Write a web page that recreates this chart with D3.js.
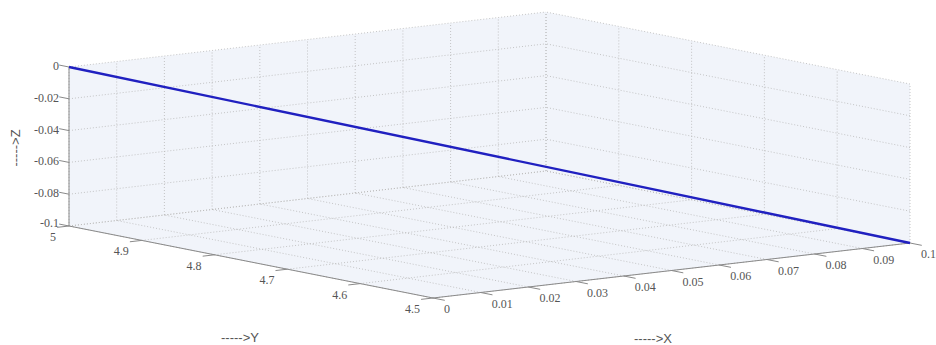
<!DOCTYPE html>
<html><head><meta charset="utf-8">
<script src="https://cdn.jsdelivr.net/npm/d3@7"></script>
<style>html,body{margin:0;padding:0;background:#fff;}</style>
</head><body>
<svg id="chart" width="936" height="345"></svg>
<script>
// ---- data ----
const lineX = [0, 0.1];
const lineY = [5, 4.5];
const lineZ = [0, -0.1];
const xTicks = [0, 0.01, 0.02, 0.03, 0.04, 0.05, 0.06, 0.07, 0.08, 0.09, 0.1];
const yTicks = [4.5, 4.6, 4.7, 4.8, 4.9, 5];
const zTicks = [-0.1, -0.08, -0.06, -0.04, -0.02, 0];
const xTickLabels = ["0", "0.01", "0.02", "0.03", "0.04", "0.05", "0.06", "0.07", "0.08", "0.09", "0.1"];
const yTickLabels = ["4.5", "4.6", "4.7", "4.8", "4.9", "5"];
const zTickLabels = ["-0.1", "-0.08", "-0.06", "-0.04", "-0.02", "0"];
const axisLabels = ["----->X", "----->Y", "----->Z"];

// ---- projection ----
const svg = d3.select("#chart");
const sx = d3.scaleLinear().domain([0, 0.1]).range([0, 1]);
const sy = d3.scaleLinear().domain([4.5, 5]).range([0, 1]);
const sz = d3.scaleLinear().domain([-0.1, 0]).range([0, 1]);
const O = [433, 298], EX = [477, -55], EY = [-364, -72], EZ = [0, -159];
function P(x, y, z) {
  const u = sx(x), v = sy(y), w = sz(z);
  return [O[0] + u*EX[0] + v*EY[0] + w*EZ[0], O[1] + u*EX[1] + v*EY[1] + w*EZ[1]];
}
const X0 = 0, X1 = 0.1, Y0 = 4.5, Y1 = 5, Z0 = -0.1, Z1 = 0;
const paneColor = "#f1f4fa";
const poly = pts => "M" + pts.map(p => p.join(",")).join("L") + "Z";

// panes
svg.append("path").attr("d", poly([P(X0,Y1,Z0), P(X1,Y1,Z0), P(X1,Y1,Z1), P(X0,Y1,Z1)])).attr("fill", paneColor);
svg.append("path").attr("d", poly([P(X1,Y0,Z0), P(X1,Y1,Z0), P(X1,Y1,Z1), P(X1,Y0,Z1)])).attr("fill", paneColor);
svg.append("path").attr("d", poly([P(X0,Y0,Z0), P(X1,Y0,Z0), P(X1,Y1,Z0), P(X0,Y1,Z0)])).attr("fill", paneColor);

// grid
const grid = svg.append("g").attr("stroke", "#b8b8b8").attr("stroke-width", 0.8).attr("stroke-dasharray", "1,2").attr("fill", "none");
const seg = (a, b) => grid.append("line").attr("x1", a[0]).attr("y1", a[1]).attr("x2", b[0]).attr("y2", b[1]);
xTicks.forEach(x => { seg(P(x,Y1,Z0), P(x,Y1,Z1)); seg(P(x,Y0,Z0), P(x,Y1,Z0)); });
yTicks.forEach(y => { seg(P(X1,y,Z0), P(X1,y,Z1)); seg(P(X0,y,Z0), P(X1,y,Z0)); });
zTicks.forEach(z => { seg(P(X0,Y1,z), P(X1,Y1,z)); seg(P(X1,Y0,z), P(X1,Y1,z)); });

// axes
const ax = svg.append("g").attr("stroke", "#8a8a8a").attr("stroke-width", 1).attr("fill", "none");
const aseg = (a, b) => ax.append("line").attr("x1", a[0]).attr("y1", a[1]).attr("x2", b[0]).attr("y2", b[1]);
aseg(P(X0,Y0,Z0), P(X1,Y0,Z0));
aseg(P(X0,Y0,Z0), P(X0,Y1,Z0));
aseg(P(X0,Y1,Z0), P(X0,Y1,Z1));
function unit(v, len) { const l = Math.hypot(v[0], v[1]); return [v[0]/l*len, v[1]/l*len]; }
const tx = unit([-EY[0], -EY[1]], 12), ty = unit([-EX[0], -EX[1]], 12), tz = unit(EY, 10);
xTicks.forEach(x => { const p = P(x,Y0,Z0); aseg(p, [p[0]+tx[0], p[1]+tx[1]]); });
yTicks.forEach(y => { const p = P(X0,y,Z0); aseg(p, [p[0]+ty[0], p[1]+ty[1]]); });
zTicks.forEach(z => { const p = P(X0,Y1,z); aseg(p, [p[0]+tz[0], p[1]+tz[1]]); });

// tick labels
const serif = '"Liberation Serif"';
const tick = sel => sel.style("font-family", serif).style("font-size", "12px").style("fill", "#555");
const tl = svg.append("g");
xTicks.forEach((x, i) => { const p = P(x,Y0,Z0);
  tl.append("text").call(tick).attr("x", p[0]+11).attr("y", p[1]+15).attr("text-anchor", "start").text(xTickLabels[i]); });
yTicks.forEach((y, i) => { const p = P(X0,y,Z0);
  tl.append("text").call(tick).attr("x", p[0]-13).attr("y", p[1]+15).attr("text-anchor", "end").text(yTickLabels[i]); });
zTicks.forEach((z, i) => { const p = P(X0,Y1,z);
  tl.append("text").call(tick).attr("x", p[0]-10).attr("y", p[1]+(i === 0 ? 1 : 3)).attr("text-anchor", "end").text(zTickLabels[i]); });

// axis labels
const lab = sel => sel.style("font-family", '"Liberation Sans"').style("font-size", "13px").style("fill", "#555").attr("text-anchor", "middle");
const al = svg.append("g");
al.append("text").call(lab).attr("x", 653).attr("y", 343).text(axisLabels[0]);
al.append("text").call(lab).attr("x", 240).attr("y", 342).text(axisLabels[1]);
al.append("text").call(lab).attr("transform", "translate(20,148) rotate(-90)").text(axisLabels[2]);

// data line
const pts = lineX.map((x, i) => P(x, lineY[i], lineZ[i]));
svg.append("path").attr("d", d3.line()(pts)).attr("stroke", "#2020c0").attr("stroke-width", 2.4).attr("fill", "none");
</script>
</body></html>
